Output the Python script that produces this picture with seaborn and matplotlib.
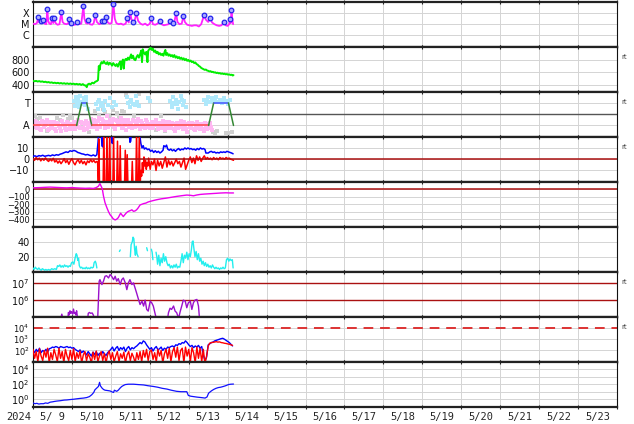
import numpy as np
import pandas as pd
import matplotlib
matplotlib.use('Agg')
import matplotlib.pyplot as plt
import seaborn as sns
from matplotlib.ticker import FixedLocator, FixedFormatter, NullFormatter

sns.set_theme(style='white')
plt.rcParams['font.family'] = ['DejaVu Sans']
plt.rcParams['axes.unicode_minus'] = True

# ---------------- labels ----------------
year_label = '2024'
day_labels = ['5/ 9', '5/10', '5/11', '5/12', '5/13', '5/14', '5/15', '5/16',
              '5/17', '5/18', '5/19', '5/20', '5/21', '5/22', '5/23']
xray_ticks = [1e-6, 1e-5, 1e-4]
xray_ticklabels = ['C', 'M', 'X']
wind_ticks = [400, 600, 800]
sector_ticks = [-1, 1]
sector_ticklabels = ['A', 'T']
bz_ticks = [-10, 0, 10]
dst_ticks = [-400, -300, -200, -100, 0]
kp_ticks = [20, 40]
elec_ticks = [1e6, 1e7]
prot_ticks = [1e2, 1e3, 1e4]
p9_ticks = [1e0, 1e2, 1e4]

# ---------------- data (time in days since 2024-05-09 00:00) ----------------
# X-ray flux, log10 W/m2
xray = [(0.00,-4.95),(0.05,-5.0),(0.10,-4.9),(0.137,-4.39),(0.16,-4.85),(0.197,-4.72),(0.22,-4.9),(0.266,-4.66),
        (0.30,-4.95),(0.34,-5.0),(0.368,-3.68),(0.39,-4.7),(0.42,-4.95),(0.46,-5.0),(0.488,-4.48),(0.52,-4.9),
        (0.548,-4.48),(0.58,-4.9),(0.63,-5.05),(0.68,-5.0),(0.728,-3.95),(0.76,-4.8),(0.80,-4.95),(0.86,-5.0),
        (0.90,-4.95),(0.934,-4.57),(0.96,-5.0),(0.985,-4.86),(1.02,-5.05),(1.08,-5.05),(1.14,-4.83),(1.18,-5.0),
        (1.24,-4.95),(1.294,-3.41),(1.32,-4.5),(1.36,-4.9),(1.40,-4.95),(1.422,-4.66),(1.46,-5.0),(1.52,-5.05),
        (1.56,-4.9),(1.602,-4.18),(1.64,-4.8),(1.70,-5.0),(1.74,-4.95),(1.774,-4.75),(1.80,-4.9),(1.825,-4.72),
        (1.85,-4.85),(1.885,-4.39),(1.92,-4.85),(1.97,-4.95),(2.02,-4.9),(2.065,-3.20),(2.10,-4.5),(2.14,-4.9),
        (2.20,-5.0),(2.26,-4.95),(2.32,-5.05),(2.38,-4.95),(2.425,-4.48),(2.46,-4.85),(2.494,-3.89),(2.53,-4.6),
        (2.579,-4.78),(2.61,-4.7),(2.656,-4.03),(2.70,-4.7),(2.76,-4.95),(2.82,-5.05),(2.88,-4.95),(2.94,-5.1),
        (3.00,-4.95),(3.042,-4.48),(3.08,-5.0),(3.14,-5.05),(3.20,-4.95),(3.265,-4.69),(3.30,-5.0),(3.36,-5.1),
        (3.42,-5.05),(3.48,-5.0),(3.522,-4.75),(3.55,-4.95),(3.59,-4.86),(3.63,-4.8),(3.676,-4.03),(3.71,-4.8),
        (3.76,-5.0),(3.82,-4.95),(3.865,-4.27),(3.90,-4.8),(3.96,-5.05),(4.02,-5.1),(4.08,-5.15),(4.14,-5.1),
        (4.20,-5.1),(4.26,-5.2),(4.32,-5.0),(4.396,-4.18),(4.44,-4.6),(4.50,-4.8),(4.55,-4.48),(4.60,-4.85),
        (4.66,-5.0),(4.72,-5.1),(4.78,-5.15),(4.84,-5.1),(4.91,-4.83),(4.95,-5.1),(5.00,-5.15),(5.04,-5.0),
        (5.064,-4.54),(5.08,-4.9),(5.098,-3.74),(5.12,-4.6),(5.14,-5.0)]
flares = [(0.137,-4.39),(0.197,-4.72),(0.266,-4.66),(0.368,-3.68),(0.488,-4.48),(0.548,-4.48),(0.728,-3.95),
          (0.934,-4.57),(0.985,-4.86),(1.14,-4.83),(1.294,-3.41),(1.422,-4.66),(1.602,-4.18),(1.774,-4.75),
          (1.825,-4.72),(1.885,-4.39),(2.065,-3.20),(2.425,-4.48),(2.494,-3.89),(2.579,-4.78),(2.656,-4.03),
          (3.042,-4.48),(3.265,-4.69),(3.522,-4.75),(3.59,-4.86),(3.676,-4.03),(3.865,-4.27),(4.396,-4.18),
          (4.55,-4.48),(4.91,-4.83),(5.064,-4.54),(5.098,-3.74)]

# Solar wind speed km/s
wind = [(0.00,470),(0.04,462),(0.08,468),(0.12,458),(0.16,465),(0.20,455),(0.24,460),(0.28,450),(0.32,455),
        (0.36,445),(0.40,450),(0.44,440),(0.48,445),(0.52,435),(0.56,440),(0.60,432),(0.64,438),(0.68,428),
        (0.72,435),(0.76,425),(0.80,432),(0.84,422),(0.88,430),(0.92,420),(0.96,428),(1.00,418),(1.04,425),
        (1.08,415),(1.12,422),(1.16,412),(1.20,420),(1.24,405),(1.28,418),(1.32,400),(1.36,395),(1.38,370),
        (1.40,410),(1.44,425),(1.48,415),(1.52,440),(1.56,430),(1.60,455),(1.64,465),(1.67,480),(1.69,700),
        (1.71,640),(1.73,720),(1.76,760),(1.79,740),(1.82,775),(1.85,745),(1.88,730),(1.91,760),(1.94,720),
        (1.97,750),(2.00,735),(2.03,705),(2.06,745),(2.09,720),(2.12,700),(2.15,730),(2.18,690),(2.21,740),
        (2.24,770),(2.26,650),(2.28,760),(2.31,800),(2.33,660),(2.35,780),(2.38,810),(2.41,790),(2.44,830),
        (2.47,800),(2.50,850),(2.52,880),(2.54,820),(2.57,860),(2.60,800),(2.63,790),(2.66,840),(2.69,870),
        (2.72,830),(2.75,880),(2.78,940),(2.80,760),(2.82,960),(2.85,900),(2.88,880),(2.91,920),(2.94,760),
        (2.96,940),(2.99,960),(3.02,990),(3.05,950),(3.08,970),(3.11,920),(3.14,940),(3.17,900),(3.20,920),
        (3.23,880),(3.26,900),(3.29,870),(3.32,890),(3.35,860),(3.38,920),(3.40,950),(3.42,870),(3.45,900),
        (3.48,860),(3.51,880),(3.54,850),(3.57,870),(3.60,840),(3.63,870),(3.66,830),(3.69,850),(3.72,820),
        (3.75,840),(3.78,810),(3.81,830),(3.84,800),(3.87,820),(3.90,790),(3.93,810),(3.96,780),(3.99,795),
        (4.02,770),(4.05,785),(4.08,760),(4.11,770),(4.14,745),(4.17,755),(4.20,730),(4.23,720),(4.26,700),
        (4.29,690),(4.32,670),(4.35,660),(4.38,650),(4.41,640),(4.44,645),(4.47,630),(4.50,625),(4.53,615),
        (4.56,620),(4.59,605),(4.62,610),(4.65,598),(4.68,602),(4.71,590),(4.74,596),(4.77,585),(4.80,590),
        (4.83,578),(4.86,585),(4.89,575),(4.92,580),(4.95,570),(4.98,575),(5.01,565),(5.04,570),(5.07,560),
        (5.10,565),(5.13,552),(5.15,558)]

# IMF sector (T = +1, A = -1)
sector = [(0.00,-1),(1.12,-1),(1.25,1),(1.38,1),(1.51,-1),(4.51,-1),(4.64,1),(5.02,1),(5.15,-1)]
sector_pink = [(0.00,-0.9),(0.05,-0.6),(0.10,-1.2),(0.15,-0.8),(0.20,-1.4),(0.25,-0.7),(0.30,-1.0),(0.35,-0.5),
               (0.40,-1.3),(0.45,-0.9),(0.50,-1.1),(0.55,-0.7),(0.60,-1.5),(0.65,-0.9),(0.70,-1.2),(0.75,-0.6),
               (0.80,-1.0),(0.85,-1.4),(0.90,-0.8),(0.95,-1.1),(1.00,-1.3),(1.05,-0.7),(1.10,-1.0),(1.15,-0.5),
               (1.20,-1.2),(1.25,-0.8),(1.30,-1.4),(1.35,-0.6),(1.40,-1.0),(1.45,-0.9),(1.50,-0.4),(1.55,-1.1),
               (1.60,-0.7),(1.65,-1.3),(1.70,-0.3),(1.75,-0.9),(1.80,-0.6),(1.85,-1.2),(1.90,-0.2),(1.95,-0.8),
               (2.00,-1.0),(2.05,-0.4),(2.10,-1.3),(2.15,-0.6),(2.20,-0.9),(2.25,-0.3),(2.30,-1.1),(2.35,-0.7),
               (2.40,-1.4),(2.45,-0.5),(2.50,-0.8),(2.55,-1.2),(2.60,-0.6),(2.65,-1.0),(2.70,-0.4),(2.75,-1.3),
               (2.80,-0.8),(2.85,-1.1),(2.90,-0.5),(2.95,-0.9),(3.00,-1.2),(3.05,-0.7),(3.10,-1.0),(3.15,-0.5),
               (3.20,-1.3),(3.25,-0.8),(3.30,-1.1),(3.35,-0.6),(3.40,-1.4),(3.45,-0.9),(3.50,-0.7),(3.55,-1.2),
               (3.60,-0.9),(3.65,-1.5),(3.70,-0.8),(3.75,-1.1),(3.80,-0.6),(3.85,-1.3),(3.90,-1.0),(3.95,-1.6),
               (4.00,-0.8),(4.05,-1.2),(4.10,-0.9),(4.15,-1.4),(4.20,-0.7),(4.25,-1.1),(4.30,-1.3),(4.35,-0.9),
               (4.40,-1.5),(4.45,-1.0),(4.50,-1.2),(4.55,-0.8),(4.60,-1.4)]
sector_pink2 = [(0.025,-1.1),(0.075,-0.7),(0.125,-0.95),(0.175,-1.3),(0.225,-0.6),(0.275,-1.15),(0.325,-0.8),
                (0.375,-1.4),(0.425,-0.7),(0.475,-1.2),(0.525,-0.85),(0.575,-1.3),(0.625,-0.75),(0.675,-1.05),
                (0.725,-1.45),(0.775,-0.9),(0.825,-1.2),(0.875,-0.65),(0.925,-1.35),(0.975,-0.9),(1.025,-1.0),
                (1.075,-1.35),(1.125,-0.8),(1.175,-1.1),(1.225,-0.65),(1.275,-1.2),(1.325,-0.9),(1.375,-1.3),
                (1.425,-0.75),(1.475,-1.1),(1.525,-0.8),(1.575,-0.5),(1.625,-1.0),(1.675,-0.6),(1.725,-1.15),
                (1.775,-0.45),(1.825,-0.9),(1.875,-0.7),(1.925,-1.1),(1.975,-0.5),(2.025,-0.75),(2.075,-1.15),
                (2.125,-0.55),(2.175,-1.0),(2.225,-0.65),(2.275,-1.2),(2.325,-0.5),(2.375,-0.95),(2.425,-0.7),
                (2.475,-1.1),(2.525,-1.0),(2.575,-0.55),(2.625,-1.15),(2.675,-0.75),(2.725,-1.05),(2.775,-0.6),
                (2.825,-0.95),(2.875,-1.25),(2.925,-0.7),(2.975,-1.1),(3.025,-0.85),(3.075,-1.2),(3.125,-0.65),
                (3.175,-1.0),(3.225,-0.75),(3.275,-1.2),(3.325,-0.85),(3.375,-1.05),(3.425,-0.7),(3.475,-1.2),
                (3.525,-1.0),(3.575,-0.75),(3.625,-1.3),(3.675,-0.95),(3.725,-1.25),(3.775,-0.85),(3.825,-1.0),
                (3.875,-0.7),(3.925,-1.3),(3.975,-0.9),(4.025,-1.1),(4.075,-0.75),(4.125,-1.3),(4.175,-0.95),
                (4.225,-1.2),(4.275,-0.85),(4.325,-1.0),(4.375,-1.35),(4.425,-0.8),(4.475,-1.3),(4.525,-0.9),
                (4.575,-1.1)]
sector_blue = [(1.05,1.2),(1.08,0.7),(1.10,1.5),(1.13,0.9),(1.16,1.3),(1.19,0.6),(1.22,1.6),(1.26,1.1),(1.30,1.4),
               (1.33,0.8),(1.37,1.2),(1.40,0.5),(1.62,0.9),(1.66,0.5),(1.70,1.3),(1.74,0.7),(1.78,1.0),(1.82,0.4),
               (1.86,1.2),(1.92,0.8),(1.98,1.4),(2.03,0.6),(2.08,1.1),(2.13,0.8),(2.42,1.5),(2.45,1.0),(2.48,0.6),
               (2.52,1.3),(2.58,0.9),(2.65,1.6),(2.68,1.1),(2.72,0.7),(2.95,1.4),(3.00,1.2),(3.52,1.2),(3.56,0.6),
               (3.60,1.5),(3.64,0.9),(3.68,1.3),(3.72,0.5),(3.76,1.1),(3.80,1.6),(3.84,0.8),(3.88,1.2),(3.92,0.6),
               (4.40,1.3),(4.45,0.9),(4.50,1.5),(4.55,1.1),(4.60,1.4),(4.65,1.2),(4.70,1.5),(4.75,1.1),(4.80,1.3),
               (4.85,1.0),(4.90,1.4),(4.95,1.2),(5.00,0.9),(5.05,1.3),(1.12,1.0),(1.24,0.9),(1.35,1.5),
               (1.68,1.1),(1.80,0.7),(2.50,1.1),(2.62,0.8),(3.58,1.0),(3.70,0.9),(3.82,1.3),(4.48,1.2),
               (4.68,1.3),(4.88,1.2)]
sector_grey = [(0.05,-0.2),(0.10,-0.4),(0.18,-0.3),(0.35,-1.5),(0.62,-0.3),(0.70,-0.5),(0.78,-0.1),(0.84,-1.4),
               (0.90,-0.4),(0.95,-0.2),(1.00,-0.3),(1.45,-1.6),(1.60,0.3),(1.70,-0.1),(1.80,0.5),(1.86,0.2),
               (1.95,-0.2),(2.05,0.4),(2.15,0.1),(2.20,-0.3),(2.28,0.3),(2.35,0.2),(2.40,1.7),(2.60,-0.2),
               (2.72,1.8),(3.15,-1.4),(3.30,-0.2),(3.40,-1.5),(4.62,-1.6),(4.68,-1.7),(4.72,-1.5),(4.95,-1.7),
               (5.02,-1.7),(5.10,-1.6)]

# IMF Bt (blue) and Bz (red), nT
imf_bt = [(0.00,2.5),(0.05,3.0),(0.10,2.2),(0.15,3.2),(0.20,2.8),(0.25,3.5),(0.30,2.6),(0.35,3.0),(0.40,3.4),
          (0.45,2.9),(0.50,3.8),(0.55,3.2),(0.60,4.0),(0.65,3.6),(0.70,4.5),(0.75,5.0),(0.80,5.8),(0.85,6.5),
          (0.90,6.0),(0.95,7.5),(1.00,7.0),(1.05,7.8),(1.10,7.2),(1.15,6.0),(1.20,5.5),(1.25,4.8),(1.30,4.5),
          (1.35,3.8),(1.40,4.2),(1.45,3.5),(1.50,3.0),(1.55,3.8),(1.60,2.8),(1.64,4.0),(1.67,15),(1.69,25),
          (1.75,30),(1.77,12),(1.79,11),(1.81,25),(1.90,30),(2.00,28),(2.02,16),(2.04,14),(2.06,25),(2.20,30),
          (2.35,28),(2.47,25),(2.49,15),(2.51,16),(2.53,25),(2.66,28),(2.74,22),(2.77,14),(2.80,10),(2.83,12),
          (2.86,9),(2.90,10),(2.94,8.5),(2.98,9),(3.02,7),(3.06,8),(3.10,6),(3.14,7.5),(3.18,6),(3.22,7),
          (3.26,5.5),(3.30,6.5),(3.34,8),(3.36,12),(3.40,11),(3.43,12.5),(3.46,9),(3.50,8),(3.54,9),(3.58,7.5),
          (3.62,8.5),(3.66,7),(3.70,8.5),(3.74,9.5),(3.78,8),(3.82,9),(3.86,8.5),(3.90,10),(3.94,9),(3.98,10),
          (4.02,9),(4.06,9.5),(4.10,8.5),(4.14,9),(4.18,8),(4.22,9.5),(4.26,8.5),(4.30,10),(4.34,9),(4.38,9.5),
          (4.42,8.5),(4.44,5.5),(4.50,5.5),(4.54,6.5),(4.58,7),(4.62,6),(4.66,6.5),(4.70,5.5),(4.74,6),(4.78,5.5),
          (4.82,6.5),(4.86,6),(4.90,6.5),(4.94,6),(4.98,7),(5.02,6.5),(5.06,6),(5.10,5.5),(5.14,4.8)]
imf_bz = [(0.00,0.5),(0.04,-1),(0.08,1.5),(0.12,-0.5),(0.16,1),(0.20,-1.5),(0.24,0.5),(0.28,-1),(0.32,1.2),
          (0.36,-0.8),(0.40,-2),(0.44,0),(0.48,-1.5),(0.52,0.8),(0.56,-2.5),(0.60,-1),(0.64,-3.5),(0.68,-1.5),
          (0.72,-4),(0.76,-2),(0.80,0.5),(0.84,-3),(0.88,-1),(0.92,-4.5),(0.96,-1.5),(1.00,0.5),(1.04,-3),
          (1.08,-5),(1.12,-2),(1.16,-0.5),(1.20,-3.5),(1.24,-1),(1.28,-4),(1.32,-2),(1.36,-5),(1.40,-1.5),
          (1.44,-3),(1.48,-0.5),(1.52,-2.5),(1.56,-1),(1.60,-3),(1.64,-2),(1.66,-3),(1.68,-25),(1.69,18),
          (1.71,-25),(1.80,-25),(1.82,25),(1.84,-25),(1.88,-25),(1.90,25),(1.92,-25),(1.95,-25),(1.97,25),
          (1.99,-25),(2.05,-25),(2.07,20),(2.09,-25),(2.15,-25),(2.17,16),(2.19,-25),(2.22,-25),(2.24,12),
          (2.26,-25),(2.35,-25),(2.37,8),(2.39,-25),(2.40,-25),(2.42,4),(2.44,-25),(2.53,-25),(2.55,-2),
          (2.57,-25),(2.64,-25),(2.66,25),(2.68,-25),(2.71,-25),(2.73,22),(2.75,-25),(2.77,-10),(2.79,-15),
          (2.81,-3),(2.83,-12),(2.85,2),(2.87,-6),(2.89,-1),(2.91,-9),(2.93,-3),(2.95,-6),(2.97,1),(2.99,-4),
          (3.01,-9),(3.04,-2),(3.08,-5),(3.12,0),(3.16,-10),(3.20,-1),(3.24,-6),(3.28,-2),(3.32,-8),(3.36,-3),
          (3.40,2),(3.44,-7),(3.48,-1),(3.52,-5),(3.56,-2),(3.60,-6),(3.64,-3),(3.68,0),(3.72,-4),(3.76,-2),
          (3.80,-7),(3.84,-3),(3.88,1),(3.92,-9),(3.96,-5),(4.00,-1),(4.04,2),(4.08,-3),(4.12,1),(4.16,-4),
          (4.20,3),(4.24,-1),(4.28,2),(4.32,-2),(4.36,1),(4.40,3),(4.44,0),(4.48,1.5),(4.52,0),(4.56,1),
          (4.60,-0.5),(4.64,1.5),(4.68,0),(4.72,1),(4.76,-0.5),(4.80,1.5),(4.84,0.5),(4.88,1),(4.92,0),
          (4.96,1.5),(5.00,0.5),(5.04,1),(5.08,0),(5.12,-0.5),(5.15,-1)]

# Dst index, nT
dst = [(0.00,18),(0.10,20),(0.20,22),(0.30,25),(0.44,28),(0.60,24),(0.75,20),(0.87,18),(1.00,22),(1.10,18),
       (1.21,15),(1.35,12),(1.45,14),(1.55,10),(1.62,20),(1.68,40),(1.72,75),(1.75,40),(1.78,5),(1.81,-90),
       (1.85,-180),(1.90,-250),(1.94,-300),(1.98,-340),(2.02,-365),(2.06,-395),(2.11,-410),(2.15,-400),
       (2.19,-380),(2.22,-350),(2.25,-320),(2.28,-340),(2.32,-365),(2.35,-345),(2.39,-320),(2.42,-305),
       (2.45,-295),(2.50,-285),(2.54,-275),(2.58,-295),(2.62,-290),(2.66,-275),(2.70,-250),(2.75,-210),
       (2.80,-200),(2.84,-192),(2.90,-185),(2.95,-172),(3.01,-162),(3.10,-150),(3.18,-140),(3.30,-128),
       (3.44,-118),(3.55,-108),(3.69,-96),(3.80,-88),(3.95,-78),(4.05,-82),(4.12,-88),(4.20,-78),(4.29,-70),
       (4.40,-65),(4.55,-60),(4.70,-55),(4.81,-51),(4.95,-48),(5.05,-50),(5.15,-50)]

# cyan index (None = data gap)
cyan = [(0.00,5),(0.03,3),(0.06,6),(0.09,4),(0.12,3),(0.15,5),(0.18,3),(0.21,2),(0.24,4),(0.27,3),(0.30,2),
        (0.33,3),(0.36,2),(0.40,3),(0.44,2),(0.48,4),(0.52,3),(0.56,4),(0.60,3),(0.63,8),(0.66,7),(0.69,9),
        (0.72,6),(0.75,8),(0.78,6),(0.81,9),(0.84,7),(0.87,8),(0.90,6),(0.93,8),(0.96,7),(0.99,12),(1.02,13),
        (1.05,10),(1.08,18),(1.11,24),(1.13,22),(1.15,15),(1.17,18),(1.19,8),(1.22,5),(1.25,6),(1.28,4),
        (1.31,5),(1.34,4),(1.37,6),(1.40,4),(1.43,5),(1.46,4),(1.49,6),(1.52,5),(1.55,6),(1.57,12),(1.60,14),
        (1.62,11),(1.64,5),(1.65,None),(2.22,27),(2.24,29),(2.25,None),(2.50,20),(2.52,36),(2.55,40),(2.57,46),
        (2.59,44),(2.61,30),(2.63,22),(2.65,34),(2.67,24),(2.70,20),(2.71,None),(2.92,32),(2.94,28),(2.95,None),
        (3.04,30),(3.06,26),(3.08,16),(3.09,None),(3.16,26),(3.18,20),(3.20,10),(3.23,22),(3.26,8),(3.29,18),
        (3.32,12),(3.35,24),(3.38,14),(3.41,20),(3.44,12),(3.47,8),(3.50,10),(3.53,5),(3.56,8),(3.59,5),
        (3.62,9),(3.65,6),(3.68,10),(3.71,5),(3.74,7),(3.77,6),(3.80,14),(3.83,24),(3.86,12),(3.89,22),
        (3.92,18),(3.95,26),(3.98,16),(4.01,24),(4.04,20),(4.07,30),(4.09,40),(4.11,41),(4.13,32),(4.16,20),
        (4.19,27),(4.22,16),(4.25,24),(4.28,14),(4.31,18),(4.34,10),(4.37,14),(4.40,8),(4.43,12),(4.46,7),
        (4.49,10),(4.52,6),(4.55,8),(4.58,5),(4.61,9),(4.64,6),(4.67,4),(4.70,6),(4.73,4),(4.76,5),(4.79,3),
        (4.82,5),(4.85,4),(4.88,6),(4.91,4),(4.94,5),(4.97,16),(5.00,18),(5.03,14),(5.06,17),(5.09,15),
        (5.12,16),(5.14,5)]

# electron flux, log10
electron = [(0.70,4.8),(0.74,5.15),(0.78,4.8),(0.89,4.8),(0.91,5.25),(0.93,5.1),(0.95,5.35),(0.97,5.2),
            (0.99,5.3),(1.02,5.15),(1.04,5.45),(1.06,5.2),(1.08,5.25),(1.10,5.1),(1.12,5.35),(1.14,5.0),
            (1.16,4.8),(1.40,4.8),(1.42,5.2),(1.45,5.25),(1.48,5.2),(1.52,5.22),(1.55,5.1),(1.58,4.8),
            (1.66,4.8),(1.70,7.1),(1.72,7.19),(1.77,6.9),(1.81,7.1),(1.85,7.39),(1.89,7.42),(1.94,7.29),
            (1.98,7.49),(2.02,7.39),(2.07,7.19),(2.11,7.39),(2.15,7.1),(2.19,7.25),(2.24,6.9),(2.28,7.19),
            (2.32,7.29),(2.37,7.0),(2.41,6.6),(2.45,7.0),(2.49,7.19),(2.54,6.9),(2.58,7.0),(2.62,6.71),
            (2.66,6.41),(2.71,6.02),(2.75,5.72),(2.80,5.92),(2.84,5.63),(2.88,5.98),(2.92,5.43),(2.96,5.33),
            (3.01,5.92),(3.05,5.82),(3.09,5.63),(3.14,5.14),(3.18,4.8),(3.45,4.8),(3.48,5.24),(3.52,5.5),
            (3.56,5.43),(3.61,5.63),(3.65,5.33),(3.69,5.24),(3.74,4.9),(3.78,5.3),(3.82,5.63),(3.86,5.98),
            (3.91,5.92),(3.95,5.53),(3.99,5.82),(4.04,5.92),(4.08,5.43),(4.12,5.82),(4.16,5.98),(4.21,6.02),
            (4.25,5.63),(4.28,4.8)]

# proton flux, log10, hourly from 2024-05-09 00 UT
proton_blue = [2.0, 1.8, 2.1, 1.9, 2.2, 1.8, 2.0, 1.9, 2.1, 1.85, 2.15,
               2.2, 2.3, 2.25, 2.35, 2.3, 2.2, 2.35, 2.3, 2.25, 2.3, 2.35, 2.25, 2.3, 2.2, 2.25,
               2.1, 2.0, 1.9, 2.05, 1.8, 1.95,
               1.8, 1.6, 1.9, 1.7, 1.5, 1.85, 1.65, 1.9, 1.55, 1.75, 1.6, 1.9, 1.7, 1.55, 1.8, 1.95,
               2.1, 2.3, 1.95, 2.2, 2.35, 2.0, 2.25, 2.1, 2.3, 1.9, 2.2, 2.35, 2.05, 2.25, 2.15, 2.3,
               2.4, 2.55, 2.7, 2.6, 2.85, 2.75, 2.5,
               2.3, 2.1, 2.25, 1.95, 2.2, 2.35, 2.05, 2.15, 2.3, 2.0, 2.2, 2.1, 2.3, 2.25,
               2.35, 2.4, 2.3, 2.5, 2.45, 2.6, 2.55, 2.7, 2.65, 2.85, 2.7,
               2.5, 2.35, 2.45, 2.25, 2.4, 2.3, 2.45, 2.2, 2.35,
               1.6, 1.1, 1.4,
               2.5, 2.6, 2.7, 2.75, 2.85, 2.9, 2.95, 3.0, 3.05, 3.08,
               3.0, 2.9, 2.8, 2.7, 2.55, 2.4]
proton_red = [2.1, 1.3, 1.9, 1.0, 2.15, 1.5, 1.1, 2.0, 1.4, 2.2, 0.9, 1.8, 1.2, 2.1, 1.6, 1.0, 2.2, 1.3, 1.9,
              0.9, 2.1, 1.5, 1.1, 2.0, 1.2, 2.15,
              1.0, 1.8, 1.3, 1.95, 0.9, 1.6, 1.9, 1.1, 1.7, 1.4, 0.9, 1.85, 1.2, 1.95, 1.0, 1.5, 1.9, 1.1,
              1.75, 0.9, 1.6, 1.95, 1.2, 1.8, 1.0,
              1.5, 1.9, 1.0, 1.7, 1.3, 1.85, 0.9, 1.6, 1.9, 1.1, 1.75, 1.4, 0.9, 1.8, 1.2, 1.9,
              1.0, 2.0, 1.4, 2.1, 1.1, 1.9, 2.05, 1.2, 1.8, 1.0, 2.1, 1.5, 2.0, 0.9, 1.7, 2.1, 1.3, 2.2,
              1.0, 1.9, 2.25, 1.4, 2.3, 1.1, 2.0, 2.2, 0.9, 2.3, 1.5, 2.1, 1.0, 2.25, 1.8, 0.9, 2.3, 1.3,
              2.2, 1.0, 2.1, 0.8,
              1.5, 2.4, 2.65, 2.7, 2.72, 2.75, 2.78, 2.74, 2.76, 2.7, 2.68, 2.64, 2.62, 2.58, 2.55, 2.5, 2.45]

# bottom panel, log10
bottom_flux = [(0.00,-0.5),(0.05,-0.6),(0.10,-0.55),(0.15,-0.65),(0.20,-0.6),(0.27,-0.6),(0.32,-0.5),
               (0.38,-0.55),(0.44,-0.4),(0.50,-0.35),(0.55,-0.3),(0.61,-0.25),(0.70,-0.2),(0.80,-0.12),
               (0.87,-0.1),(0.95,-0.05),(1.05,0.0),(1.12,0.05),(1.20,0.1),(1.30,0.15),(1.38,0.22),(1.45,0.35),
               (1.51,0.6),(1.56,0.9),(1.59,1.25),(1.64,1.5),(1.68,1.7),(1.71,2.25),(1.73,1.8),(1.77,1.5),
               (1.81,1.3),(1.85,1.2),(1.92,1.15),(1.98,1.1),(2.04,0.95),(2.07,0.9),(2.09,1.2),(2.11,1.15),
               (2.15,1.05),(2.19,1.2),(2.24,1.5),(2.28,1.7),(2.33,1.85),(2.37,1.95),(2.45,2.0),(2.58,2.0),
               (2.70,1.95),(2.84,1.9),(2.95,1.8),(3.09,1.7),(3.20,1.6),(3.32,1.45),(3.44,1.35),(3.55,1.2),
               (3.69,1.05),(3.80,1.0),(3.95,1.0),(3.99,0.5),(4.05,0.4),(4.21,0.28),(4.35,0.2),(4.42,0.15),
               (4.47,0.3),(4.51,0.8),(4.58,1.1),(4.64,1.3),(4.70,1.45),(4.76,1.55),(4.82,1.6),(4.89,1.7),
               (4.95,1.8),(5.02,1.95),(5.08,2.0),(5.15,2.02)]

# ---------------- helpers ----------------
def draw_line(ax, pairs, color, lw, log=False, z=3):
    segs, cur = [], []
    for t, v in pairs:
        if v is None:
            if cur:
                segs.append(cur)
            cur = []
        else:
            cur.append((t, 10.0 ** v if log else v))
    if cur:
        segs.append(cur)
    for s in segs:
        df = pd.DataFrame(s, columns=['t', 'v'])
        sns.lineplot(data=df, x='t', y='v', ax=ax, color=color, linewidth=lw,
                     estimator=None, sort=False, zorder=z)

def draw_points(ax, pairs, color, size, marker='s', z=2):
    df = pd.DataFrame(pairs, columns=['t', 'v'])
    sns.scatterplot(data=df, x='t', y='v', ax=ax, color=color, s=size, marker=marker,
                    linewidth=0, zorder=z)

# ---------------- figure ----------------
W, H = 634, 424
fig = plt.figure(figsize=(W / 100, H / 100), dpi=100)
L, R = 33, 617
top0, ph = 1.7, 45.0
axes = []
for i in range(9):
    top = top0 + ph * i
    ax = fig.add_axes([L / W, 1 - (top + ph) / H, (R - L) / W, ph / H])
    axes.append(ax)

grid_c = '#d4d4d4'
dark_red = '#aa1111'

(ax1, ax2, ax3, ax4, ax5, ax6, ax7, ax8, ax9) = axes

# panel 1: X-ray
draw_line(ax1, xray, '#ff22ff', 1.3, log=True)
fdf = pd.DataFrame([(t, 10.0 ** v) for t, v in flares], columns=['t', 'v'])
sns.scatterplot(data=fdf, x='t', y='v', ax=ax1, marker='o', s=11, color='#aaaaff',
                edgecolor='#2222ee', linewidth=0.9, zorder=5)
ax1.set_yscale('log')
ax1.set_ylim(1e-7, 1e-3)
ax1.yaxis.set_major_locator(FixedLocator(xray_ticks))
ax1.yaxis.set_major_formatter(FixedFormatter(xray_ticklabels))
ax1.yaxis.set_minor_locator(FixedLocator([]))

# panel 2: wind
draw_line(ax2, wind, '#00ee00', 1.4)
ax2.set_ylim(300, 1000)
ax2.set_yticks(wind_ticks)

# panel 3: sector
draw_points(ax3, sector_grey, '#d0d0d0', 6)
draw_points(ax3, sector_pink, '#ffb8f2', 7)
draw_points(ax3, sector_pink2, '#ffb8f2', 7)
draw_points(ax3, sector_blue, '#aee8fb', 6)
ax3.axhline(0, color='#555555', lw=1.0, zorder=1.5)
for (t0, v0), (t1, v1) in zip(sector[:-1], sector[1:]):
    if v0 == v1 == -1:
        c = '#ff4444'
    elif v0 == v1 == 1:
        c = '#4455ff'
    else:
        c = '#338833'
    sns.lineplot(x=[t0, t1], y=[v0, v1], ax=ax3, color=c, linewidth=1.1, estimator=None,
                 sort=False, zorder=4)
ax3.set_ylim(-2, 2)
ax3.set_yticks(sector_ticks)
ax3.set_yticklabels(sector_ticklabels)

# panel 4: IMF
draw_line(ax4, imf_bt, '#0000ff', 1.1)
draw_line(ax4, imf_bz, '#ff0000', 1.1, z=4)
ax4.axhline(0, color=dark_red, lw=1.1, zorder=5)
ax4.set_ylim(-20, 20)
ax4.set_yticks(bz_ticks)

# panel 5: Dst
draw_line(ax5, dst, '#ee00ee', 1.0)
ax5.axhline(0, color=dark_red, lw=1.1, zorder=2.5)
ax5.set_ylim(-500, 100)
ax5.set_yticks(dst_ticks)

# panel 6: cyan
draw_line(ax6, cyan, '#22eeee', 1.0)
ax6.set_ylim(0, 60)
ax6.set_yticks(kp_ticks)

# panel 7: electrons
draw_line(ax7, electron, '#9a10cc', 1.0, log=True)
for lv in elec_ticks:
    ax7.axhline(lv, color=dark_red, lw=1.0, zorder=2.5)
ax7.set_yscale('log')
ax7.set_ylim(1e5, 10 ** 7.66)
ax7.yaxis.set_major_locator(FixedLocator(elec_ticks))
ax7.yaxis.set_major_formatter(FixedFormatter([r'$10^{6}$', r'$10^{7}$']))
ax7.yaxis.set_minor_locator(FixedLocator([]))

# panel 8: protons
hrs = np.arange(len(proton_blue)) / 24.0
sns.lineplot(x=hrs, y=10.0 ** np.array(proton_blue), ax=ax8, color='#0000ff', linewidth=1.0,
             estimator=None, sort=False, zorder=3)
sns.lineplot(x=hrs, y=10.0 ** np.array(proton_red), ax=ax8, color='#ff0000', linewidth=1.0,
             estimator=None, sort=False, zorder=4)
ax8.axhline(1e4, color='#dd3333', lw=1.4, ls=(0, (5, 3.5)), zorder=2.5)
ax8.set_yscale('log')
ax8.set_ylim(10, 1e5)
ax8.yaxis.set_major_locator(FixedLocator(prot_ticks))
ax8.yaxis.set_major_formatter(FixedFormatter([r'$10^{2}$', r'$10^{3}$', r'$10^{4}$']))
ax8.yaxis.set_minor_locator(FixedLocator([]))

# panel 9
draw_line(ax9, bottom_flux, '#1111ff', 0.9, log=True)
ax9.set_yscale('log')
ax9.set_ylim(0.1, 1e5)
ax9.yaxis.set_major_locator(FixedLocator(p9_ticks))
ax9.yaxis.set_major_formatter(FixedFormatter([r'$10^{0}$', r'$10^{2}$', r'$10^{4}$']))
ax9.yaxis.set_minor_locator(FixedLocator([1e1, 1e3]))
ax9.yaxis.set_minor_formatter(NullFormatter())

# common styling
for i, ax in enumerate(axes):
    ax.set_xlabel('')
    ax.set_ylabel('')
    ax.set_facecolor('white')
    ax.set_xlim(0, 15)
    ax.set_xticks(np.arange(0, 16))
    ax.set_axisbelow(True)
    ax.grid(True, which='major', axis='both', color=grid_c, lw=0.7)
    if ax is ax9:
        ax.grid(True, which='minor', axis='y', color=grid_c, lw=0.7)
    ax.tick_params(axis='x', which='major', length=3, width=0.8, direction='inout',
                   top=True, bottom=True, labelbottom=False, color='#222222')
    ax.tick_params(axis='y', which='both', length=0, labelsize=7, pad=2.5, colors='#111111')
    for s in ['top', 'bottom']:
        ax.spines[s].set_linewidth(1.6)
        ax.spines[s].set_color('#222222')
    for s in ['left', 'right']:
        ax.spines[s].set_linewidth(0.8)
        ax.spines[s].set_color('#111111')
    if ax.get_legend() is not None:
        ax.get_legend().remove()

ax5.tick_params(axis='y', labelsize=6, pad=2)
ax8.tick_params(axis='y', labelsize=6, pad=2.5)

for ax in [ax2, ax3, ax4, ax7, ax8]:
    ax.text(1.007, 1 - 10 / 45, 'rt', transform=ax.transAxes, fontsize=5, color='#444444',
            ha='left', va='center')

ax9.set_xticks(np.arange(0.5, 15, 1), minor=True)
ax9.set_xticklabels(day_labels, minor=True, fontfamily='DejaVu Sans Mono', fontsize=7.5)
ax9.tick_params(axis='x', which='minor', length=0, pad=4, labelbottom=True)
fig.text(19 / W, 1 - 416.5 / H, year_label, ha='center', va='center',
         fontfamily='DejaVu Sans Mono', fontsize=7.5)

fig.savefig('out.png', dpi=100)
